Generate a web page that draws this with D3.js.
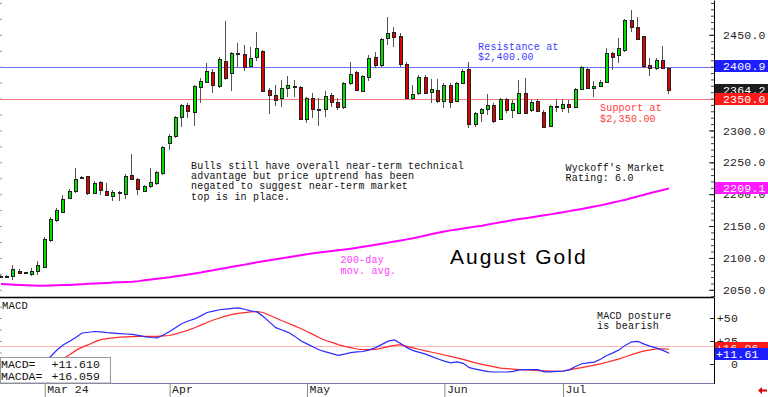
<!DOCTYPE html>
<html>
<head>
<meta charset="utf-8">
<script src="https://cdn.jsdelivr.net/npm/d3@7"></script>
<style>
  html, body { margin: 0; padding: 0; background: #fff; }
  svg { display: block; }
</style>
</head>
<body>
<svg id="chart" width="768" height="397" font-family="'Liberation Mono', 'DejaVu Sans Mono', monospace"></svg>
<script>
// ---- data (August Gold, daily, Feb 21 - Jul 25 2024) ----
const open = [2071.9, 2071.7, 2071.7, 2079.5, 2077.4, 2074.8, 2080.0, 2086.3, 2128.1, 2159.5,
  2172.6, 2194.5, 2205.5, 2225.9, 2228.0, 2202.4, 2219.6, 2205.5, 2197.2, 2204.0,
  2200.3, 2230.1, 2223.3, 2205.5, 2213.4, 2217.0, 2233.7, 2279.8, 2291.3, 2320.5,
  2339.9, 2329.4, 2368.7, 2376.5, 2392.2, 2370.2, 2409.4, 2390.6, 2419.4, 2419.4,
  2401.1, 2414.7, 2424.6, 2363.4, 2355.6, 2350.4, 2367.1, 2369.2, 2368.7, 2317.9,
  2351.4, 2333.6, 2333.6, 2355.6, 2344.1, 2336.2, 2373.9, 2392.2, 2362.4, 2384.3,
  2415.7, 2402.6, 2444.5, 2453.9, 2448.1, 2404.2, 2351.4, 2358.2, 2384.3, 2359.8,
  2363.4, 2346.7, 2371.3, 2346.2, 2374.9, 2395.8, 2310.1, 2327.9, 2333.1, 2339.9,
  2317.9, 2348.8, 2332.1, 2327.9, 2358.2, 2332.1, 2346.7, 2329.4, 2307.5, 2337.8,
  2334.7, 2341.0, 2336.2, 2364.5, 2395.8, 2366.0, 2369.7, 2376.5, 2422.0, 2418.3,
  2426.2, 2473.2, 2462.8, 2448.1, 2402.6, 2397.4, 2410.5, 2397.4];
const high = [2073.2, 2073.2, 2088.9, 2082.1, 2078.5, 2083.7, 2095.2, 2132.3, 2163.7, 2177.8,
  2198.7, 2207.6, 2240.5, 2229.0, 2229.0, 2220.7, 2221.2, 2217.0, 2206.6, 2205.5,
  2231.7, 2262.5, 2224.9, 2214.4, 2240.5, 2236.4, 2275.6, 2293.9, 2322.6, 2341.5,
  2342.5, 2371.3, 2381.7, 2405.2, 2395.8, 2415.7, 2471.7, 2423.5, 2436.6, 2434.0,
  2431.4, 2454.9, 2426.2, 2366.0, 2371.3, 2379.1, 2385.4, 2379.1, 2369.7, 2353.0,
  2358.2, 2350.4, 2362.4, 2358.2, 2350.4, 2376.5, 2407.9, 2393.7, 2387.0, 2418.3,
  2423.5, 2444.5, 2477.4, 2461.7, 2452.3, 2406.8, 2371.3, 2387.0, 2387.0, 2380.7,
  2380.2, 2373.9, 2373.9, 2376.5, 2395.8, 2407.9, 2329.4, 2334.7, 2357.1, 2342.5,
  2350.4, 2350.4, 2347.7, 2379.1, 2381.7, 2347.7, 2348.8, 2332.1, 2339.9, 2348.8,
  2348.8, 2347.7, 2366.0, 2401.6, 2397.4, 2377.5, 2379.1, 2429.8, 2423.5, 2444.5,
  2474.8, 2488.9, 2478.4, 2448.1, 2413.1, 2413.1, 2432.4, 2400.0];
const low = [2069.8, 2069.0, 2065.4, 2074.8, 2075.3, 2071.7, 2073.2, 2083.7, 2124.5, 2156.9,
  2171.0, 2191.9, 2202.4, 2223.8, 2198.7, 2200.3, 2198.7, 2197.7, 2189.3, 2189.3,
  2192.4, 2222.2, 2198.7, 2203.4, 2209.2, 2213.9, 2230.1, 2269.3, 2288.7, 2304.8,
  2319.0, 2306.9, 2342.5, 2373.9, 2358.2, 2366.0, 2379.1, 2361.8, 2400.0, 2393.2,
  2399.0, 2409.4, 2360.8, 2325.2, 2338.3, 2337.3, 2353.0, 2353.0, 2316.4, 2312.2,
  2319.0, 2306.9, 2321.6, 2337.3, 2332.1, 2333.6, 2371.3, 2362.4, 2360.8, 2377.5,
  2397.4, 2400.0, 2434.0, 2431.4, 2400.0, 2348.8, 2347.7, 2355.6, 2356.6, 2342.5,
  2342.5, 2334.7, 2334.7, 2345.1, 2373.9, 2303.3, 2305.9, 2313.7, 2324.2, 2312.2,
  2316.4, 2326.8, 2319.0, 2325.8, 2325.2, 2329.4, 2329.4, 2303.3, 2305.9, 2329.4,
  2329.4, 2326.8, 2334.7, 2363.4, 2364.5, 2353.0, 2367.6, 2374.9, 2394.8, 2405.2,
  2423.5, 2454.9, 2441.9, 2397.4, 2385.4, 2394.8, 2395.8, 2356.6];
const close = [2071.3, 2070.6, 2082.1, 2076.9, 2076.4, 2079.5, 2088.9, 2129.7, 2161.1, 2175.2,
  2191.9, 2205.0, 2223.3, 2226.9, 2202.4, 2218.1, 2206.6, 2198.7, 2203.4, 2201.3,
  2228.5, 2223.3, 2207.6, 2212.8, 2218.6, 2234.3, 2273.5, 2291.3, 2320.5, 2339.4,
  2330.5, 2369.7, 2378.1, 2392.7, 2371.3, 2412.0, 2381.7, 2420.9, 2420.9, 2399.0,
  2414.1, 2428.8, 2361.8, 2355.6, 2347.7, 2366.0, 2371.3, 2368.1, 2317.4, 2351.4,
  2333.6, 2333.1, 2354.5, 2344.1, 2336.2, 2374.9, 2388.5, 2363.4, 2385.9, 2413.1,
  2402.6, 2442.9, 2453.4, 2447.1, 2403.7, 2350.4, 2356.6, 2384.3, 2359.2, 2364.5,
  2346.7, 2371.3, 2345.1, 2374.9, 2393.7, 2310.1, 2326.8, 2333.1, 2339.9, 2315.3,
  2348.8, 2332.1, 2343.5, 2358.2, 2326.8, 2345.1, 2330.5, 2305.9, 2338.3, 2336.7,
  2341.5, 2337.3, 2364.5, 2400.0, 2366.0, 2369.7, 2376.5, 2420.9, 2415.7, 2428.8,
  2473.2, 2462.8, 2442.9, 2401.6, 2397.4, 2410.5, 2397.4, 2364.2];
const ma200 = [2059.0, 2058.6, 2058.0, 2057.5, 2057.1, 2056.8, 2056.5, 2056.5, 2056.8, 2057.1,
  2057.4, 2057.7, 2058.2, 2058.8, 2059.4, 2059.9, 2060.3, 2060.8, 2061.3, 2061.8,
  2062.2, 2062.7, 2063.6, 2064.8, 2066.0, 2067.2, 2068.4, 2069.6, 2071.1, 2072.5,
  2074.0, 2075.5, 2077.0, 2079.0, 2080.8, 2082.5, 2084.2, 2086.0, 2087.7, 2089.5,
  2091.4, 2093.3, 2094.8, 2096.5, 2098.0, 2099.6, 2101.2, 2102.7, 2104.3, 2105.9,
  2107.3, 2108.5, 2109.6, 2110.7, 2111.9, 2113.1, 2114.5, 2116.0, 2117.6, 2119.1,
  2120.7, 2122.3, 2124.0, 2125.7, 2127.4, 2129.1, 2130.8, 2133.0, 2135.2, 2137.4,
  2139.5, 2141.5, 2143.2, 2144.6, 2146.1, 2147.6, 2149.1, 2150.6, 2152.4, 2154.2,
  2156.0, 2157.7, 2159.5, 2161.0, 2162.4, 2163.8, 2165.3, 2166.8, 2168.3, 2170.0,
  2171.7, 2173.4, 2175.1, 2176.8, 2178.6, 2180.5, 2182.4, 2184.6, 2186.9, 2189.1,
  2191.4, 2193.9, 2196.5, 2199.1, 2201.7, 2204.1, 2206.6, 2209.1];
const macd = [-4, -4.5, -4, -3.5, -3, -2, 0.5, 4, 8.5, 15.5,
  21, 24.8, 29, 33.7, 34.5, 35.3, 35, 34.1, 33.5, 33,
  32.6, 32.2, 31.2, 29.8, 28.8, 28.3, 31.5, 35.3, 39.6, 44,
  46.8, 49, 52.3, 56, 57.5, 59, 59.7, 60.4, 61, 59.5,
  57.8, 56.6, 51.6, 45.5, 39.5, 37, 34.4, 30.3, 25.3, 21.9,
  18.5, 15.2, 13.2, 11.2, 9.4, 10.8, 12.4, 13.1, 13.6, 15.4,
  17.8, 21.3, 24.8, 26.2, 22.3, 17.8, 14.6, 12.6, 10.7, 8,
  5.4, 3.1, 1.2, 2.3, 0.7, -4, -5.5, -6.9, -8.3, -8.7,
  -8.7, -8.7, -8, -6.4, -6.2, -6.2, -6.2, -8.5, -8.5, -8.1,
  -7.7, -6.4, -2.8, 0.3, 1.2, 2.1, 5.2, 9.2, 12.1, 15.4,
  20.5, 24.1, 24.5, 21.6, 19.1, 17.3, 14.8, 11.61];
const macdAvg = [-2, -2.5, -2.8, -2.8, -2.7, -2.5, -2, -1, 1, 4,
  6, 10, 14.8, 18.3, 21, 24, 26.5, 27.5, 28.4, 29.3,
  29.5, 29.7, 30, 30, 30, 30, 30.5, 31, 32.8, 34.8,
  36.8, 39.4, 42.2, 45.1, 47.8, 50, 52.1, 54, 55, 55.8,
  56.6, 57, 56, 53, 50, 47, 44.3, 41.4, 38.6, 35.3,
  31.9, 28.5, 25.5, 23.5, 21, 19.1, 17.8, 16.3, 15.6, 15.6,
  15.8, 17.2, 18.8, 20.2, 21, 19.2, 17.5, 15.8, 14.3, 12.8,
  11.4, 9.8, 8.3, 6.7, 5, 3.1, 1.3, -0.4, -1.8, -3.1,
  -4.4, -5, -5.6, -6.1, -6.5, -6.8, -7.1, -7.4, -7.7, -7.9,
  -7.6, -6.4, -5.1, -3.9, -2.6, -1.2, 0.1, 1.9, 3.7, 5.6,
  7.9, 10.2, 12.4, 14.3, 15.4, 16.3, 16.4, 16.06];

const priceTicks = [2050, 2100, 2150, 2200, 2250, 2300, 2450];
const macdTicks = [0, 25, 50];
const resistance = 2400, support = 2350, macdRef = 20;
const holidays = ["2024-03-29", "2024-05-27", "2024-06-19", "2024-07-04"];

// ---- layout ----
const plotRight = 714;
const priceTop = 0, priceBottom = 297;
const macdTop = 298, macdBottom = 383;
const mono = "'Liberation Mono', 'DejaVu Sans Mono', monospace";

const svg = d3.select("#chart");

// trading calendar
const parse = d3.timeParse("%Y-%m-%d"), key = d3.timeFormat("%Y-%m-%d");
const dates = [];
let day = parse("2024-02-21");
while (dates.length < close.length) {
  const wd = day.getDay();
  if (wd !== 0 && wd !== 6 && !holidays.includes(key(day))) dates.push(day);
  day = d3.timeDay.offset(day, 1);
}
const monthIdx = d3.range(1, dates.length).filter(i => dates[i].getMonth() !== dates[i - 1].getMonth());

// scales
const x = d3.scalePoint().domain(d3.range(close.length)).range([1, 669.2]);
const yP = d3.scaleLinear().domain([2038.7, 2504.6]).range([priceBottom, priceTop]);
const yM = d3.scaleLinear().domain([-20.65, 71.74]).range([macdBottom, macdTop]);

// clip paths
const defs = svg.append("defs");
defs.append("clipPath").attr("id", "clipP").append("rect")
  .attr("x", 0).attr("y", priceTop).attr("width", plotRight).attr("height", priceBottom - priceTop);
defs.append("clipPath").attr("id", "clipM").append("rect")
  .attr("x", 0).attr("y", macdTop).attr("width", plotRight).attr("height", macdBottom - macdTop);

// ---- price pane ----
const pane = svg.append("g").attr("clip-path", "url(#clipP)");

// support / resistance as 1px bands
pane.append("rect").attr("x", 0).attr("width", plotRight)
  .attr("y", Math.round(yP(resistance))).attr("height", 1)
  .attr("fill", "#6e6eff");
pane.append("rect").attr("x", 0).attr("width", plotRight)
  .attr("y", Math.round(yP(support))).attr("height", 1)
  .attr("fill", "#ff7a7a");

// 200-day moving average
pane.append("path")
  .datum(ma200)
  .attr("fill", "none")
  .attr("stroke", "#ff00ff")
  .attr("stroke-width", 2)
  .attr("d", d3.line().x((d, i) => x(i)).y(d => yP(d)));

// candles
const candle = pane.selectAll("g.candle")
  .data(d3.range(close.length))
  .join("g")
  .attr("class", "candle")
  .attr("shape-rendering", "crispEdges");

candle.append("line")
  .attr("x1", i => Math.round(x(i)) - 0.5)
  .attr("x2", i => Math.round(x(i)) - 0.5)
  .attr("y1", i => yP(high[i]))
  .attr("y2", i => yP(low[i]))
  .attr("stroke", "#555");

candle.append("rect")
  .attr("x", i => Math.round(x(i)) - 1.5)
  .attr("width", 3)
  .attr("y", i => Math.round(yP(Math.max(open[i], close[i]))) + 0.5)
  .attr("height", i => Math.max(1, Math.round(yP(Math.min(open[i], close[i]))) - Math.round(yP(Math.max(open[i], close[i])))))
  .attr("fill", i => close[i] >= open[i] ? "#00e000" : "#e00000")
  .attr("stroke", "#222");

// ---- MACD pane ----
const mpane = svg.append("g").attr("clip-path", "url(#clipM)");
mpane.append("rect").attr("x", 0).attr("width", plotRight)
  .attr("y", Math.round(yM(macdRef))).attr("height", 1)
  .attr("fill", "#ffb4b4");
mpane.append("path")
  .datum(macdAvg)
  .attr("fill", "none").attr("stroke", "#ff2a2a").attr("stroke-width", 1.2)
  .attr("d", d3.line().x((d, i) => x(i)).y(d => yM(d)));
mpane.append("path")
  .datum(macd)
  .attr("fill", "none").attr("stroke", "#2a2aff").attr("stroke-width", 1.2)
  .attr("d", d3.line().x((d, i) => x(i)).y(d => yM(d)));

// pane borders
svg.append("line").attr("x1", 0).attr("x2", plotRight).attr("y1", 297.5).attr("y2", 297.5)
  .attr("stroke", "#000").attr("stroke-width", 1.4);
svg.append("line").attr("x1", 0).attr("x2", plotRight).attr("y1", macdBottom + 0.5).attr("y2", macdBottom + 0.5)
  .attr("stroke", "#7a7aa8");

// left edge ticks
const leftP = svg.append("g")
  .call(d3.axisLeft(yP).tickValues(d3.range(2050, 2501, 25)).tickSize(-2).tickFormat(""));
const leftM = svg.append("g")
  .call(d3.axisLeft(yM).tickValues(d3.range(-12.5, 71, 12.5)).tickSize(-2).tickFormat(""));
[leftP, leftM].forEach(g => {
  g.select(".domain").remove();
  g.selectAll(".tick line").attr("stroke", "#999");
});

// right price axis
const minorP = svg.append("g").attr("transform", `translate(${plotRight},0)`)
  .call(d3.axisRight(yP).tickValues(d3.range(2040, 2505, 10)).tickSize(-3).tickFormat(""));
minorP.select(".domain").remove();
minorP.selectAll(".tick line").attr("stroke", "#444");

const axP = svg.append("g").attr("transform", `translate(${plotRight},0)`)
  .call(d3.axisRight(yP).tickValues(priceTicks).tickFormat(d3.format(".1f"))
    .tickSize(-5).tickSizeOuter(0).tickPadding(9));
axP.select(".domain").attr("stroke", "#000");
axP.selectAll(".tick line").attr("stroke", "#222");
axP.selectAll("text").attr("font-family", mono)
  .attr("font-size", 11.5).attr("letter-spacing", 0.2).attr("fill", "#222");

// axis line through MACD pane
svg.append("line").attr("x1", plotRight + 0.5).attr("x2", plotRight + 0.5)
  .attr("y1", macdTop).attr("y2", macdBottom + 1).attr("stroke", "#000");

// right MACD axis
const axM = svg.append("g").attr("transform", `translate(${plotRight},0)`)
  .call(d3.axisRight(yM).tickValues(macdTicks).tickFormat(v => v === 0 ? "0" : "+" + v)
    .tickSize(-4).tickSizeOuter(0));
axM.select(".domain").remove();
axM.selectAll(".tick line").attr("stroke", "#222");
axM.selectAll("text").attr("x", 24).attr("text-anchor", "end")
  .attr("font-family", mono)
  .attr("font-size", 11.5).attr("letter-spacing", 0.2).attr("fill", "#222");

// value boxes on the right
const boxes = [
  { v: 2400.9, s: yP, label: "2400.9", fill: "#1e1eff", dy: 0 },
  { v: 2364.2, s: yP, label: "2364.2", fill: "#1c1c1c", dy: 0 },
  { v: 2350.0, s: yP, label: "2350.0", fill: "#ff1a1a", dy: 0 },
  { v: 2209.1, s: yP, label: "2209.1", fill: "#ff1aff", dy: 0 },
  { v: 16.06, s: yM, label: "+16.06", fill: "#ff1a1a", dy: -1.5 },
  { v: 11.61, s: yM, label: "+11.61", fill: "#1e1eff", dy: 0.5 }
];
const box = svg.append("g").selectAll("g").data(boxes).join("g")
  .attr("transform", d => `translate(${plotRight + 1},${Math.round(d.s(d.v) + d.dy)})`);
box.append("rect").attr("x", 0).attr("y", -6).attr("width", 768 - plotRight).attr("height", 12)
  .attr("fill", d => d.fill);
box.append("text").attr("x", 8).attr("y", 4)
  .attr("font-size", 11.5).attr("letter-spacing", 0.2).attr("fill", "#fff")
  .text(d => d.label);
box.filter(d => d.s === yM).select("text").attr("x", 1);

// date axis
const fmtFirst = d3.timeFormat("%b %y"), fmtMon = d3.timeFormat("%b");
const axD = svg.append("g").attr("transform", `translate(0,${macdBottom})`)
  .call(d3.axisBottom(x).tickValues(monthIdx).tickSize(14)
    .tickFormat((i, k) => k === 0 ? fmtFirst(dates[i]) : fmtMon(dates[i])));
axD.select(".domain").remove();
axD.selectAll(".tick line").attr("stroke", "#888");
axD.selectAll("text").attr("x", 2).attr("y", 2).attr("text-anchor", "start")
  .attr("font-family", mono)
  .attr("font-size", 11.5).attr("fill", "#222");

// small red arrow, bottom right
svg.append("path")
  .attr("d", "M758,390.5 L762,387 L762,389.5 L767,389.5 L767,391.5 L762,391.5 L762,394 Z")
  .attr("fill", "#e00000");

// ---- annotations ----
function note(lines, x0, y0, lh, color, size) {
  svg.append("g").selectAll("text").data(lines).join("text")
    .attr("x", x0).attr("y", (d, i) => y0 + i * lh)
    .attr("font-size", size || 10).attr("letter-spacing", 0.2)
    .attr("fill", color).text(d => d);
}
note(["Bulls still have overall near-term technical",
      "advantage but price uptrend has been",
      "negated to suggest near-term market",
      "top is in place."], 191, 168.5, 10.4, "#111");
note(["Wyckoff's Market", "Rating: 6.0"], 565.5, 170.7, 10.4, "#111");
note(["Resistance at", "$2,400.00"], 478, 49.5, 10.6, "#3c3cff");
note(["Support at", "$2,350.00"], 600, 111, 10.6, "#ff3a3a");
note(["200-day", "mov. avg."], 340.5, 263.3, 10.3, "#ff3cff");
note(["MACD posture", "is bearish"], 597, 318.7, 10.4, "#111");
note(["MACD"], 2, 308.7, 0, "#111", 10.5);

svg.append("text").attr("x", 450).attr("y", 264.3)
  .attr("font-family", "'Liberation Sans', Arial, sans-serif")
  .attr("font-size", 21).attr("letter-spacing", 2).attr("fill", "#000")
  .text("August Gold");

// MACD legend box
svg.append("rect").attr("x", 0.5).attr("y", 357.5).attr("width", 110).attr("height", 25.5)
  .attr("fill", "#fff").attr("stroke", "#999");
const legend = [["MACD=", "+11.610"], ["MACDA=", "+16.059"]];
legend.forEach((r, k) => {
  svg.append("text").attr("x", 1).attr("y", 368 + k * 11.7)
    .attr("font-size", 11.5).attr("fill", "#111").text(r[0]);
  svg.append("text").attr("x", 51.5).attr("y", 368 + k * 11.7)
    .attr("font-size", 11.5).attr("fill", "#111").text(r[1]);
});
</script>
</body>
</html>
